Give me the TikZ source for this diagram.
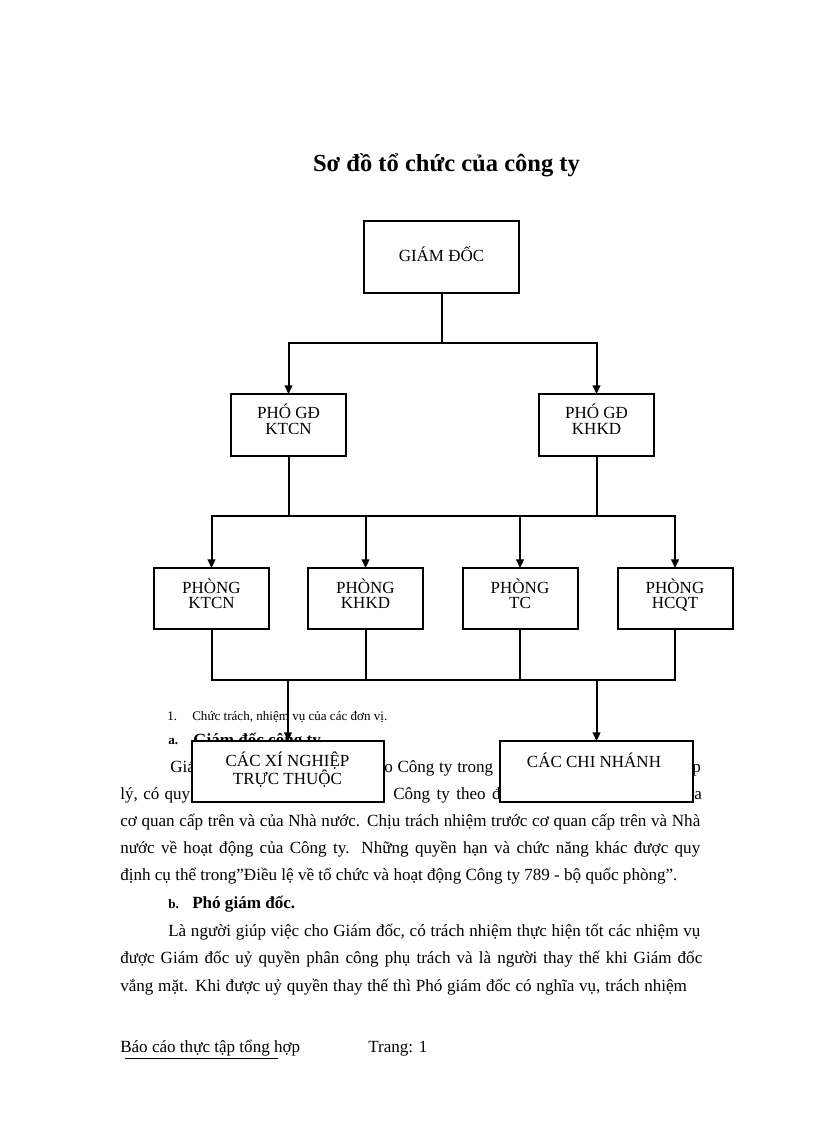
\documentclass[tikz,border=0pt]{standalone}
\usepackage{fontspec}
\setmainfont{Liberation Serif}
\usetikzlibrary{arrows.meta}
\begin{document}
\begin{tikzpicture}[x=0.75pt,y=-0.75pt,
  box/.style={draw, line width=1.5pt, fill=white, inner sep=0pt, outer sep=0pt},
  midbox/.style={box, minimum width=86.25pt, minimum height=46.5pt},
  dept/.style={box, minimum width=86.25pt, minimum height=45.75pt},
  unit/.style={box, minimum width=144.5pt, minimum height=45.75pt},
  conn/.style={line width=1.5pt},
  bar/.style={conn, line cap=rect},
  arr/.style={conn, -{Triangle[length=6.5pt,width=5.8pt]}},
  lab/.style={anchor=base, inner sep=0pt, font=\fontsize{12.75}{14}\selectfont},
  ttl/.style={anchor=base, inner sep=0pt, font=\fontsize{18.4}{22}\selectfont\bfseries},
  body/.style={anchor=base west, inner sep=0pt, font=\fontsize{12.8}{15}\selectfont},
  head/.style={anchor=base west, inner sep=0pt, font=\fontsize{12.8}{15}\selectfont\bfseries},
  small/.style={anchor=base west, inner sep=0pt, font=\fontsize{9.8}{12}\selectfont},
  smallb/.style={small, font=\fontsize{9.8}{12}\selectfont\bfseries}
]
\useasboundingbox[fill=white] (0,0) rectangle (816,1123);

% ---------- title ----------
\node[ttl] (title) at (446.5,172) {Sơ đồ tổ chức của công ty};

% ---------- body text (under the chart) ----------
\node[small] (n1) at (167,720) {1.};
\node[small] (n1t) at (192,720) {Chức trách, nhiệm vụ của các đơn vị.};
\node[smallb] (na) at (168,744) {a.};
\node[head] (nat) at (193,745) {Giám đốc công ty};
\node[body] (l1a) at (170,772) {Giá};
\node[body] (l1b) at (384,772) {\makebox[81.75pt][s]{o Công ty trong}};
\node[body] (l1c) at (692,772) {p};
\node[body] (l2a) at (120,799) {\makebox[52.5pt][s]{lý, có quy}};
\node[body] (l2b) at (393,799) {\makebox[80.5pt][s]{Công ty theo đ}};
\node[body] (l2c) at (694,799) {a};
\node[body] (l3) at (120,826) {\makebox[435pt][s]{cơ quan cấp trên và của Nhà nước. Chịu trách nhiệm trước cơ quan cấp trên và Nhà}};
\node[body] (l4) at (120,853) {\makebox[435pt][s]{nước về hoạt động của Công ty. Những quyền hạn và chức năng khác được quy}};
\node[body] (l5) at (120,880) {định cụ thể trong”Điều lệ về tổ chức và hoạt động Công ty 789 - bộ quốc phòng”.};
\node[smallb] (nb) at (168,908) {b.};
\node[head] (nbt) at (192,908) {Phó giám đốc.};
\node[body] (l7) at (168,936) {\makebox[399pt][s]{Là người giúp việc cho Giám đốc, có trách nhiệm thực hiện tốt các nhiệm vụ}};
\node[body] (l8) at (120,963) {\makebox[436.5pt][s]{được Giám đốc uỷ quyền phân công phụ trách và là người thay thế khi Giám đốc}};
\node[body] (l9) at (120,991) {\makebox[425pt][s]{vắng mặt. Khi được uỷ quyền thay thế thì Phó giám đốc có nghĩa vụ, trách nhiệm}};
\node[body] (f1) at (120,1052) {Báo cáo thực tập tổng hợp};
\node[body] (f2) at (368,1052) {Trang: 1};
\coordinate (u1) at (125,1058);
\coordinate (u2) at (278,1058);
\draw[line width=0.75pt] (u1) -- (u2);

% ---------- boxes ----------
\node[box, minimum width=116.25pt, minimum height=54pt] (gd) at (441.5,257) {};
\node[midbox] (pk) at (288.5,425) {};
\node[midbox] (ph) at (596.5,425) {};
\node[dept] (p1) at (211.5,598.5) {};
\node[dept] (p2) at (365.5,598.5) {};
\node[dept] (p3) at (520,598.5) {};
\node[dept] (p4) at (675,598.5) {};
\node[unit] (xn) at (288,771.5) {};
\node[unit] (cn) at (596.5,771.5) {};

% ---------- labels ----------
\node[lab] (gdt) at (441.5,262) {GIÁM ĐỐC};
\node[lab] (pkt1) at (288.5,418) {PHÓ GĐ};
\node[lab] (pkt2) at (288.5,434) {KTCN};
\node[lab] (pht1) at (596.5,418) {PHÓ GĐ};
\node[lab] (pht2) at (596.5,434) {KHKD};
\node[lab] (p1t1) at (211.5,593) {PHÒNG};
\node[lab] (p1t2) at (211.5,608) {KTCN};
\node[lab] (p2t1) at (365.5,593) {PHÒNG};
\node[lab] (p2t2) at (365.5,608) {KHKD};
\node[lab] (p3t1) at (520,593) {PHÒNG};
\node[lab] (p3t2) at (520,608) {TC};
\node[lab] (p4t1) at (675,593) {PHÒNG};
\node[lab] (p4t2) at (675,608) {HCQT};
\node[lab] (xnt1) at (287.5,766) {CÁC XÍ NGHIỆP};
\node[lab] (xnt2) at (287.5,784) {TRỰC THUỘC};
\node[lab] (cnt) at (594,767) {CÁC CHI NHÁNH};

% ---------- connectors ----------
\coordinate (b1) at (441.5,343);
\coordinate (b2) at (443,516);
\coordinate (b3) at (443,680);

\draw[conn] (gd.south) -- (b1);
\draw[bar] (pk.north |- b1) -- (ph.north |- b1);
\draw[arr] (pk.north |- b1) -- (pk.north);
\draw[arr] (ph.north |- b1) -- (ph.north);

\draw[conn] (pk.south) -- (pk.south |- b2);
\draw[conn] (ph.south) -- (ph.south |- b2);
\draw[bar] (p1.north |- b2) -- (p4.north |- b2);
\foreach \p in {p1,p2,p3,p4} {
  \draw[arr] (\p.north |- b2) -- (\p.north);
  \draw[conn] (\p.south) -- (\p.south |- b3);
}
\draw[bar] (p1.south |- b3) -- (p4.south |- b3);
\draw[arr] (xn.north |- b3) -- (xn.north);
\draw[arr] (cn.north |- b3) -- (cn.north);
\end{tikzpicture}
\end{document}
